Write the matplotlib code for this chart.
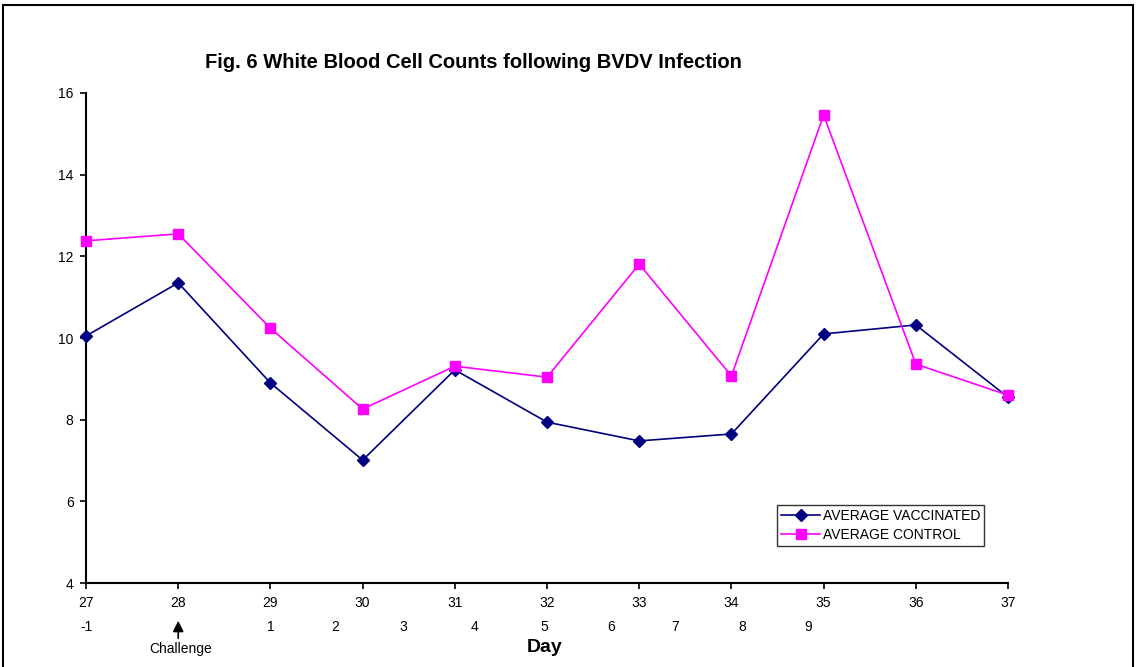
#!/usr/bin/env python3
# Fig. 6 - white blood cell counts following BVDV infection

import matplotlib
matplotlib.use("Agg")
import matplotlib.pyplot as plt
from matplotlib.patches import Rectangle
from matplotlib.transforms import blended_transform_factory

plt.rcParams['font.family'] = ['Liberation Sans', 'DejaVu Sans']

# Data
days = [27, 28, 29, 30, 31, 32, 33, 34, 35, 36, 37]
vaccinated = [10.05, 11.35, 8.90, 7.01, 9.22, 7.94, 7.48, 7.65, 10.10, 10.32, 8.55]
control = [12.38, 12.55, 10.24, 8.26, 9.31, 9.04, 11.81, 9.07, 15.46, 9.36, 8.60]

# Second row of labels (days post challenge) and where they sit along the day axis
post_labels = ['-1', '1', '2', '3', '4', '5', '6', '7', '8', '9']
post_label_x = [27.0, 29.0, 29.7, 30.44, 31.21, 31.97, 32.69, 33.39, 34.12, 34.83]


def main():
    fig = plt.figure(figsize=(11.38, 6.67), dpi=100)
    ax = fig.add_axes([0.0756, 0.1259, 0.8102, 0.7347])

    ax.plot(days, vaccinated, color='#000080', marker='D', markersize=6.5,
            linewidth=1.2, label='AVERAGE VACCINATED', clip_on=False, zorder=3)
    ax.plot(days, control, color='#FF00FF', marker='s', markersize=7,
            linewidth=1.2, label='AVERAGE CONTROL', clip_on=False, zorder=3)

    ax.set_xlim(27, 37)
    ax.set_ylim(4, 16)
    ax.set_xticks(days)
    ax.set_yticks(range(4, 17, 2))
    ax.tick_params(axis='both', direction='out', length=4, width=1.2,
                   labelsize=10, colors='black')
    ax.tick_params(axis='x', pad=5)
    ax.tick_params(axis='y', pad=5)
    for side in ('top', 'right'):
        ax.spines[side].set_visible(False)
    for side in ('left', 'bottom'):
        ax.spines[side].set_linewidth(1.5)

    fig.text(473 / 1138, 1 - 62 / 667, 'Fig. 6 White Blood Cell Counts following BVDV Infection',
             ha='center', va='center', fontsize=14.5, fontweight='bold')

    # Post-challenge day labels
    trans = blended_transform_factory(ax.transData, fig.transFigure)
    for lab, x in zip(post_labels, post_label_x):
        ax.text(x, 1 - 627 / 667, lab, transform=trans, ha='center', va='center',
                fontsize=10, clip_on=False)

    # Challenge arrow
    ax.annotate('', xy=(28, 1 - 618 / 667), xytext=(28, 1 - 641 / 667),
                xycoords=trans, textcoords=trans,
                arrowprops=dict(arrowstyle='-|>', color='black', lw=1.2,
                                mutation_scale=16))
    ax.text(28.03, 1 - 649 / 667, 'Challenge', transform=trans, ha='center',
            va='center', fontsize=10)
    fig.text(545 / 1138, 1 - 647 / 667, 'Day', ha='center', va='center',
             fontsize=14, fontweight='bold')

    leg = ax.legend(loc='upper left', bbox_to_anchor=((777 - 86) / 922, 1 - (505 - 93) / 490),
                    frameon=True, fancybox=False, fontsize=10, handlelength=2.8,
                    borderpad=0.3, labelspacing=0.35, handletextpad=0.2,
                    borderaxespad=0)
    leg.get_frame().set_edgecolor('black')
    leg.get_frame().set_linewidth(1.0)

    # Outer border around the chart area
    fig.patches.append(Rectangle((3 / 1138, -0.05), 1130 / 1138, 1.05 - 5 / 667,
                                 transform=fig.transFigure, fill=False,
                                 edgecolor='black', linewidth=1.5))

    fig.savefig('out.png', dpi=100)
    plt.close(fig)


if __name__ == "__main__":
    main()
